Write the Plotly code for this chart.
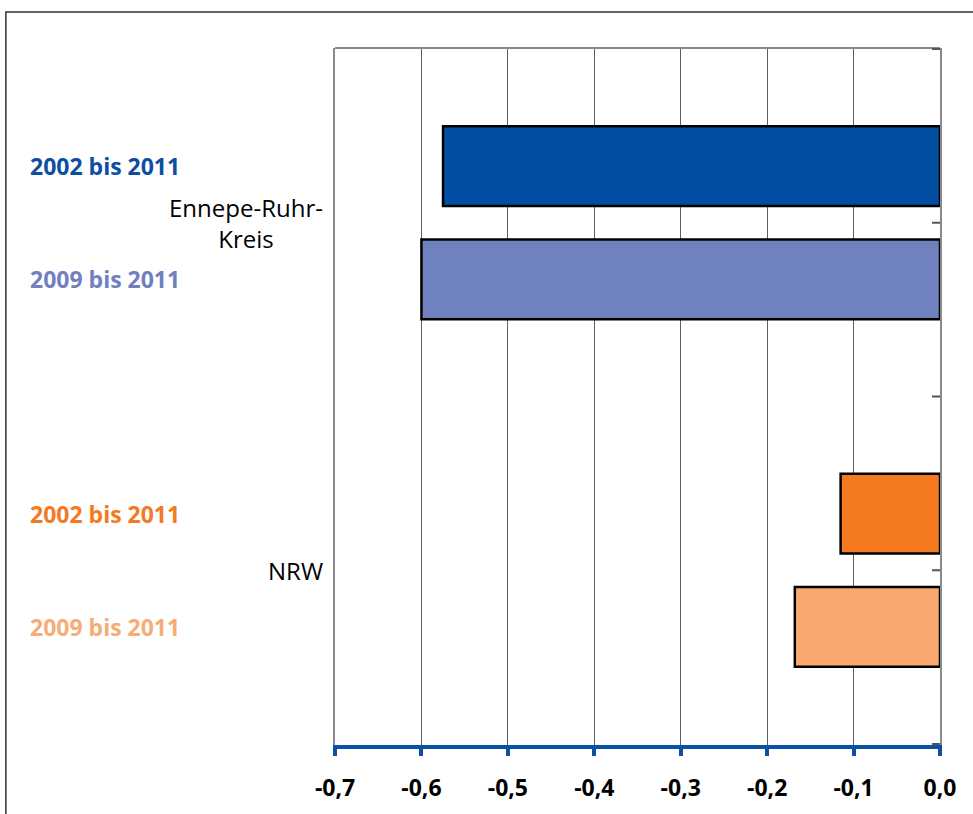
import plotly.graph_objects as go

# Data
categories = ["Ennepe-Ruhr-Kreis", "NRW"]
category_labels = ["Ennepe-Ruhr-<br>Kreis", "NRW"]
series_names = ["2002 bis 2011", "2009 bis 2011"]
values_2002 = [-0.575, -0.115]
values_2009 = [-0.600, -0.168]
colors_2002 = ["#034EA2", "#F47A22"]
colors_2009 = ["#6F81BF", "#F9A870"]
label_colors = [["#0B4EA2", "#7080BF"], ["#F47A22", "#F7AC78"]]
x_ticks = [-0.7, -0.6, -0.5, -0.4, -0.3, -0.2, -0.1, 0.0]
x_tick_labels = ["-0,7", "-0,6", "-0,5", "-0,4", "-0,3", "-0,2", "-0,1", "0,0"]

FONT = "Open Sans"
BARGAP = 0.349
BARGROUPGAP = 0.295

fig = go.Figure()
for name, vals, cols in [(series_names[0], values_2002, colors_2002),
                         (series_names[1], values_2009, colors_2009)]:
    fig.add_trace(go.Bar(
        y=categories, x=vals, orientation="h", name=name,
        marker=dict(color=cols, line=dict(color="#000000", width=2.5)),
        showlegend=False, hoverinfo="x+y+name",
    ))

# offset of each series within a category (units of category axis)
slot = (1 - BARGAP) / 2
offsets = [-slot / 2, slot / 2]

annotations = []
for ci, cat in enumerate(categories):
    annotations.append(dict(
        xref="paper", yref="y", x=-0.016, y=ci, text=category_labels[ci],
        xanchor="right", yanchor="middle", align="center", showarrow=False,
        font=dict(family=FONT, size=24, color="#000000"),
    ))
    for si, sname in enumerate(series_names):
        annotations.append(dict(
            xref="paper", yref="y", x=-0.508, y=ci + offsets[si],
            text="<b>%s</b>" % sname, xanchor="left", yanchor="middle",
            showarrow=False,
            font=dict(family=FONT, size=23, color=label_colors[ci][si]),
        ))

shapes = [
    # outer frame
    dict(type="rect", xref="paper", yref="paper", x0=-0.544, x1=1.2,
         y0=-0.3, y1=1.0516, line=dict(color="#333333", width=1.5),
         fillcolor="rgba(0,0,0,0)", layer="below"),
    # top border of plot area
    dict(type="line", xref="paper", yref="paper", x0=0, x1=1, y0=1, y1=1,
         line=dict(color="#8a8a8a", width=2)),
]
# small ticks on the zero line
for yv in [-0.5, 0, 0.5, 1, 1.5]:
    shapes.append(dict(type="line", xref="x", yref="y", xsizemode="pixel",
                       xanchor=0, x0=-8, x1=0, y0=yv, y1=yv,
                       line=dict(color="#555555", width=2)))

fig.update_layout(
    width=973, height=814,
    margin=dict(l=335, r=33, t=48, b=69),
    paper_bgcolor="white", plot_bgcolor="white",
    barmode="group", bargap=BARGAP, bargroupgap=BARGROUPGAP,
    annotations=annotations, shapes=shapes,
    xaxis=dict(
        range=[-0.7, 0.0], tickvals=x_ticks, ticktext=x_tick_labels,
        showgrid=True, gridcolor="#606060", gridwidth=1,
        zeroline=False, showline=True, linecolor="#0A50A5", linewidth=4,
        ticks="outside", ticklen=7, tickwidth=4, tickcolor="#0A50A5",
        tickfont=dict(family=FONT, size=23, color="#000000", weight="bold"),
        ticklabelstandoff=12,
    ),
    yaxis=dict(
        categoryorder="array", categoryarray=categories, autorange="reversed",
        showticklabels=False, ticks="", showgrid=False, zeroline=False,
        showline=True, linecolor="#8a8a8a", linewidth=2, mirror=True,
    ),
)

fig.write_html("out.html",
               config={"displayModeBar": False},
               post_script="document.body.style.margin='0';document.body.style.overflow='hidden';")
